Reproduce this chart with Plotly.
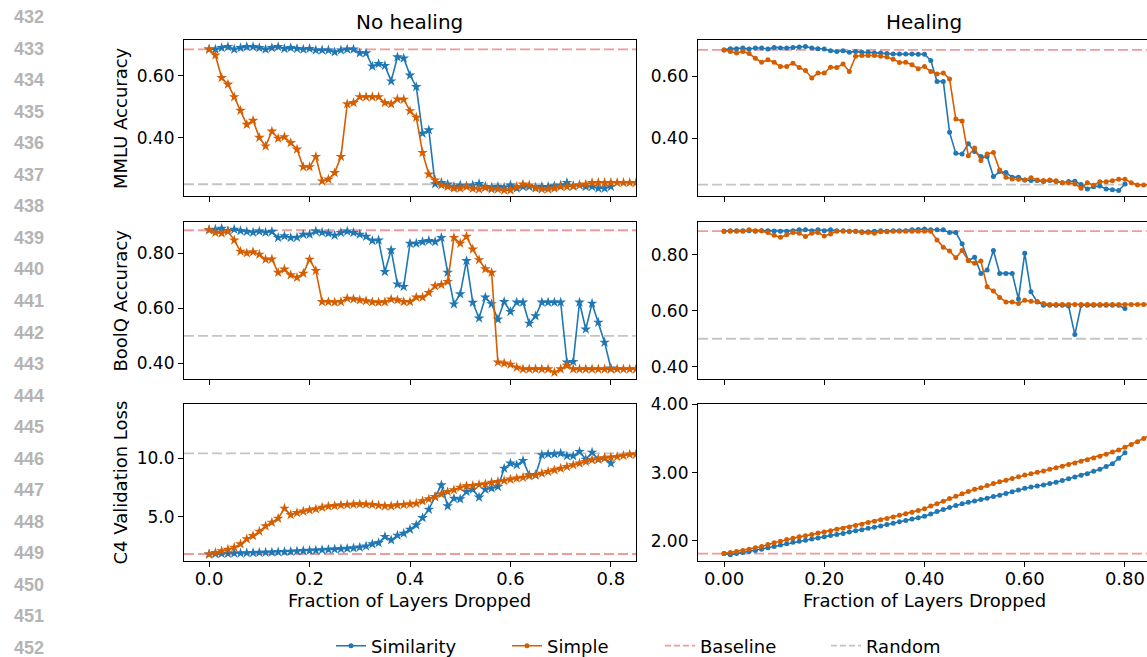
import plotly.graph_objects as go

W, H = 1147, 657
N_LAYERS = 80  # x = layers dropped / total layers

line_numbers = [str(v) for v in range(432, 453)]
col_titles = ["No healing", "Healing"]
row_titles = ["MMLU Accuracy", "BoolQ Accuracy", "C4 Validation Loss"]
x_title = "Fraction of Layers Dropped"
series_names = ["Similarity", "Simple", "Baseline", "Random"]

# ---------------- No healing ----------------
mmlu_sim_noheal = [0.686, 0.686, 0.691, 0.694, 0.686, 0.691, 0.694, 0.694, 0.691, 0.686,
                   0.691, 0.694, 0.688, 0.691, 0.688, 0.686, 0.688, 0.683, 0.683, 0.683,
                   0.677, 0.683, 0.686, 0.686, 0.674, 0.674, 0.631, 0.639, 0.633, 0.583,
                   0.661, 0.657, 0.602, 0.565, 0.414, 0.425, 0.251, 0.255, 0.250, 0.242,
                   0.247, 0.244, 0.247, 0.252, 0.242, 0.240, 0.242, 0.240, 0.247, 0.237,
                   0.242, 0.242, 0.240, 0.242, 0.242, 0.244, 0.247, 0.255, 0.244, 0.247,
                   0.242, 0.242, 0.237, 0.237, 0.242]
mmlu_simple_noheal = [0.686, 0.667, 0.594, 0.573, 0.532, 0.488, 0.443, 0.456, 0.401, 0.373,
                      0.421, 0.398, 0.403, 0.384, 0.363, 0.306, 0.306, 0.339, 0.260, 0.266,
                      0.287, 0.339, 0.509, 0.513, 0.532, 0.532, 0.532, 0.532, 0.513, 0.509,
                      0.525, 0.524, 0.487, 0.466, 0.352, 0.282, 0.263, 0.247, 0.242, 0.237,
                      0.237, 0.242, 0.236, 0.234, 0.239, 0.234, 0.234, 0.231, 0.231, 0.242,
                      0.250, 0.247, 0.237, 0.234, 0.234, 0.237, 0.242, 0.242, 0.244, 0.247,
                      0.250, 0.255, 0.255, 0.255, 0.255, 0.255, 0.255, 0.255, 0.255]
boolq_sim_noheal = [0.885, 0.887, 0.890, 0.882, 0.887, 0.882, 0.879, 0.876, 0.880, 0.876,
                    0.879, 0.857, 0.863, 0.857, 0.858, 0.869, 0.869, 0.880, 0.876, 0.873,
                    0.865, 0.875, 0.880, 0.875, 0.869, 0.861, 0.846, 0.848, 0.733, 0.812,
                    0.688, 0.679, 0.836, 0.836, 0.842, 0.846, 0.842, 0.857, 0.730, 0.615,
                    0.652, 0.773, 0.621, 0.564, 0.640, 0.616, 0.560, 0.624, 0.588, 0.622,
                    0.622, 0.545, 0.572, 0.622, 0.622, 0.622, 0.622, 0.404, 0.406, 0.622,
                    0.524, 0.618, 0.549, 0.476, 0.382]
boolq_simple_noheal = [0.885, 0.875, 0.873, 0.880, 0.848, 0.807, 0.801, 0.805, 0.796, 0.778,
                       0.779, 0.730, 0.742, 0.721, 0.712, 0.727, 0.778, 0.737, 0.624, 0.624,
                       0.622, 0.624, 0.636, 0.634, 0.630, 0.627, 0.623, 0.622, 0.623, 0.633,
                       0.630, 0.624, 0.624, 0.640, 0.640, 0.657, 0.681, 0.686, 0.697, 0.857,
                       0.836, 0.861, 0.815, 0.776, 0.743, 0.730, 0.404, 0.400, 0.396, 0.385,
                       0.379, 0.379, 0.379, 0.379, 0.379, 0.367, 0.379, 0.392, 0.379, 0.379,
                       0.379, 0.379, 0.379, 0.379, 0.379, 0.379, 0.379, 0.379, 0.379]
c4_sim_noheal = [1.80, 1.82, 1.84, 1.85, 1.87, 1.88, 1.90, 1.91, 1.93, 1.94,
                 1.96, 1.98, 2.00, 2.02, 2.05, 2.08, 2.10, 2.13, 2.16, 2.19,
                 2.22, 2.25, 2.28, 2.32, 2.38, 2.48, 2.66, 2.77, 3.29, 3.00,
                 3.40, 3.57, 3.91, 4.29, 4.91, 5.63, 6.71, 7.71, 5.91, 6.57,
                 6.51, 7.14, 7.34, 6.66, 7.34, 7.43, 7.57, 9.14, 9.57, 9.43,
                 9.80, 8.57, 8.57, 10.29, 10.37, 10.37, 10.43, 10.20, 10.20, 10.57,
                 9.91, 10.51, 9.91, 10.00, 9.57]
c4_simple_noheal = [1.80, 1.91, 2.06, 2.20, 2.37, 2.66, 3.09, 3.37, 3.74, 4.20,
                    4.51, 4.86, 5.71, 5.17, 5.34, 5.46, 5.57, 5.66, 5.80, 5.89,
                    5.94, 6.00, 6.03, 6.06, 6.09, 6.06, 6.03, 5.97, 5.91, 5.91,
                    6.00, 6.03, 6.09, 6.14, 6.34, 6.51, 6.71, 6.94, 7.14, 7.29,
                    7.51, 7.63, 7.66, 7.74, 7.80, 7.94, 8.00, 8.09, 8.20, 8.29,
                    8.37, 8.49, 8.57, 8.71, 8.86, 9.00, 9.14, 9.29, 9.43, 9.57,
                    9.71, 9.86, 9.94, 10.03, 10.09, 10.14, 10.23, 10.34, 10.34]

# ---------------- Healing ----------------
mmlu_sim_heal = [0.686, 0.690, 0.690, 0.692, 0.689, 0.692, 0.692, 0.689, 0.694, 0.692,
                 0.692, 0.694, 0.695, 0.697, 0.692, 0.690, 0.689, 0.683, 0.681, 0.683,
                 0.678, 0.681, 0.678, 0.678, 0.676, 0.676, 0.674, 0.673, 0.673, 0.673,
                 0.673, 0.672, 0.672, 0.652, 0.584, 0.584, 0.419, 0.351, 0.349, 0.382,
                 0.357, 0.341, 0.341, 0.276, 0.292, 0.289, 0.274, 0.274, 0.265, 0.263,
                 0.263, 0.260, 0.263, 0.260, 0.256, 0.260, 0.261, 0.250, 0.236, 0.243,
                 0.245, 0.236, 0.233, 0.231, 0.252]
mmlu_simple_heal = [0.686, 0.681, 0.676, 0.681, 0.674, 0.659, 0.646, 0.654, 0.646, 0.632,
                    0.632, 0.643, 0.629, 0.619, 0.595, 0.611, 0.611, 0.630, 0.629, 0.640,
                    0.616, 0.665, 0.668, 0.668, 0.668, 0.665, 0.663, 0.656, 0.645, 0.646,
                    0.638, 0.625, 0.632, 0.616, 0.608, 0.611, 0.592, 0.462, 0.456, 0.343,
                    0.368, 0.328, 0.349, 0.354, 0.297, 0.274, 0.268, 0.267, 0.265, 0.272,
                    0.265, 0.263, 0.265, 0.262, 0.256, 0.256, 0.252, 0.238, 0.256, 0.248,
                    0.259, 0.259, 0.262, 0.267, 0.267, 0.256, 0.249, 0.249, 0.249]
boolq_sim_heal = [0.885, 0.887, 0.887, 0.887, 0.887, 0.885, 0.887, 0.887, 0.886, 0.885,
                  0.885, 0.887, 0.890, 0.890, 0.887, 0.890, 0.887, 0.890, 0.887, 0.887,
                  0.885, 0.885, 0.883, 0.883, 0.885, 0.887, 0.885, 0.887, 0.887, 0.887,
                  0.890, 0.891, 0.893, 0.890, 0.890, 0.890, 0.880, 0.880, 0.840, 0.780,
                  0.792, 0.734, 0.746, 0.816, 0.734, 0.734, 0.734, 0.642, 0.806, 0.668,
                  0.632, 0.620, 0.620, 0.620, 0.620, 0.617, 0.515, 0.620, 0.620, 0.620,
                  0.620, 0.620, 0.620, 0.620, 0.608]
boolq_simple_heal = [0.885, 0.885, 0.885, 0.885, 0.890, 0.887, 0.887, 0.880, 0.871, 0.863,
                     0.872, 0.880, 0.878, 0.866, 0.878, 0.880, 0.868, 0.875, 0.885, 0.885,
                     0.885, 0.885, 0.880, 0.880, 0.878, 0.883, 0.883, 0.885, 0.885, 0.885,
                     0.885, 0.885, 0.885, 0.885, 0.854, 0.828, 0.814, 0.790, 0.816, 0.780,
                     0.770, 0.778, 0.686, 0.671, 0.648, 0.632, 0.632, 0.626, 0.638, 0.634,
                     0.633, 0.626, 0.623, 0.623, 0.623, 0.623, 0.623, 0.623, 0.623, 0.623,
                     0.623, 0.623, 0.623, 0.623, 0.623, 0.623, 0.623, 0.623, 0.623]
c4_sim_heal = [1.815, 1.800, 1.815, 1.830, 1.845, 1.860, 1.880, 1.900, 1.920, 1.940,
               1.960, 1.980, 1.995, 2.010, 2.030, 2.045, 2.060, 2.080, 2.095, 2.110,
               2.130, 2.150, 2.165, 2.185, 2.200, 2.220, 2.240, 2.260, 2.280, 2.300,
               2.320, 2.340, 2.360, 2.395, 2.430, 2.460, 2.490, 2.520, 2.545, 2.565,
               2.585, 2.605, 2.625, 2.650, 2.670, 2.695, 2.720, 2.745, 2.770, 2.790,
               2.805, 2.820, 2.840, 2.860, 2.885, 2.910, 2.935, 2.960, 2.985, 3.020,
               3.050, 3.090, 3.130, 3.210, 3.290]
c4_simple_heal = [1.815, 1.830, 1.845, 1.860, 1.880, 1.900, 1.920, 1.950, 1.975, 1.995,
                  2.020, 2.040, 2.060, 2.075, 2.095, 2.115, 2.130, 2.150, 2.170, 2.185,
                  2.205, 2.225, 2.245, 2.270, 2.290, 2.310, 2.330, 2.350, 2.375, 2.400,
                  2.420, 2.445, 2.470, 2.510, 2.545, 2.580, 2.620, 2.655, 2.690, 2.725,
                  2.755, 2.780, 2.810, 2.840, 2.865, 2.890, 2.915, 2.940, 2.965, 2.985,
                  3.005, 3.025, 3.050, 3.070, 3.095, 3.120, 3.140, 3.165, 3.190, 3.215,
                  3.240, 3.270, 3.300, 3.330, 3.370, 3.410, 3.450, 3.500, 3.550]

# reference lines: (row, col) -> value
baseline_vals = {(1, 1): 0.686, (1, 2): 0.686, (2, 1): 0.884, (2, 2): 0.885,
                 (3, 1): 1.81, (3, 2): 1.814}
random_vals = {(1, 1): 0.25, (1, 2): 0.25, (2, 1): 0.50, (2, 2): 0.50, (3, 1): 10.43}

sim_series = {(1, 1): mmlu_sim_noheal, (2, 1): boolq_sim_noheal, (3, 1): c4_sim_noheal,
              (1, 2): mmlu_sim_heal, (2, 2): boolq_sim_heal, (3, 2): c4_sim_heal}
simple_series = {(1, 1): mmlu_simple_noheal, (2, 1): boolq_simple_noheal, (3, 1): c4_simple_noheal,
                 (1, 2): mmlu_simple_heal, (2, 2): boolq_simple_heal, (3, 2): c4_simple_heal}

x_ticks = [0.0, 0.2, 0.4, 0.6, 0.8]
y_ticks = {(1, 1): [0.4, 0.6], (1, 2): [0.4, 0.6],
           (2, 1): [0.4, 0.6, 0.8], (2, 2): [0.4, 0.6, 0.8],
           (3, 1): [5.0, 10.0], (3, 2): [2.0, 3.0, 4.0]}

# ---------------- styling / layout ----------------
BLUE = "#1f77b4"
ORANGE = "#d55e00"
RED = "rgba(236,110,110,0.7)"
GREY = "#c4c4c4"
FONT = "DejaVu Sans"

col_px = {1: (184, 636), 2: (698, 1147)}
row_px = {1: (40, 196), 2: (222, 379), 3: (404, 561)}
x_ranges = {1: [-0.05, 0.85], 2: [-0.052, 0.844]}
y_ranges = {(1, 1): [0.212, 0.716], (1, 2): [0.213, 0.718],
            (2, 1): [0.343, 0.914], (2, 2): [0.356, 0.918],
            (3, 1): [1.21, 14.65], (3, 2): [1.707, 4.004]}
y_fmt = {(3, 1): ".1f"}
x_fmt = {1: ".1f", 2: ".2f"}


def xs(vals):
    return [i / N_LAYERS for i in range(len(vals))]


def k_of(r, c):
    return (r - 1) * 2 + c


fig = go.Figure()
layout = dict(width=W, height=H, autosize=False, template="none",
              margin=dict(l=0, r=0, t=0, b=0, pad=0, autoexpand=False),
              paper_bgcolor="white", plot_bgcolor="white",
              font=dict(family=FONT, color="black"))

for r in (1, 2, 3):
    for c in (1, 2):
        k = k_of(r, c)
        sfx = "" if k == 1 else str(k)
        x0, x1 = col_px[c]
        y0, y1 = row_px[r]
        layout["xaxis" + sfx] = dict(
            domain=[x0 / W, x1 / W], range=x_ranges[c], anchor="y" + sfx,
            showline=True, linecolor="black", linewidth=1.2, mirror=True,
            ticks="outside", ticklen=5, tickwidth=1.2, tickcolor="black",
            tickvals=x_ticks, tickformat=x_fmt[c], showticklabels=(r == 3),
            tickfont=dict(size=18, family=FONT), ticklabelstandoff=-4,
            showgrid=False, zeroline=False, automargin=False)
        layout["yaxis" + sfx] = dict(
            domain=[1 - y1 / H, 1 - y0 / H], range=y_ranges[(r, c)], anchor="x" + sfx,
            showline=True, linecolor="black", linewidth=1.2, mirror=(c == 1),
            ticks="outside", ticklen=5, tickwidth=1.2, tickcolor="black",
            tickvals=y_ticks[(r, c)], tickformat=y_fmt.get((r, c), ".2f"),
            tickfont=dict(size=17, family=FONT), showgrid=False, zeroline=False,
            automargin=False)

        if c == 1:
            msym, msize = "star", 8
        else:
            msym, msize = "circle", 5
        legend_here = (r == 1 and c == 2)
        fig.add_trace(go.Scatter(
            x=xs(sim_series[(r, c)]), y=sim_series[(r, c)], mode="lines+markers",
            name=series_names[0], showlegend=legend_here, legendwidth=131,
            line=dict(color=BLUE, width=1.6),
            marker=dict(symbol=msym, size=msize, color=BLUE, line=dict(width=0)),
            xaxis="x" + sfx, yaxis="y" + sfx))
        fig.add_trace(go.Scatter(
            x=xs(simple_series[(r, c)]), y=simple_series[(r, c)], mode="lines+markers",
            name=series_names[1], showlegend=legend_here, legendwidth=108,
            line=dict(color=ORANGE, width=1.6),
            marker=dict(symbol=msym, size=msize, color=ORANGE, line=dict(width=0)),
            xaxis="x" + sfx, yaxis="y" + sfx))

        xref = ("x" if k == 1 else "x" + str(k)) + " domain"
        yref = "y" + sfx
        fig.add_shape(type="line", xref=xref, yref=yref, x0=0, x1=1,
                      y0=baseline_vals[(r, c)], y1=baseline_vals[(r, c)],
                      line=dict(color=RED, width=1.8, dash="10px,4px"), layer="below")
        if (r, c) in random_vals:
            fig.add_shape(type="line", xref=xref, yref=yref, x0=0, x1=1,
                          y0=random_vals[(r, c)], y1=random_vals[(r, c)],
                          line=dict(color=GREY, width=1.8, dash="10px,4px"), layer="below")

# legend-only entries for the reference lines
fig.add_trace(go.Scatter(x=[None], y=[None], mode="lines", name=series_names[2],
                         legendwidth=121, line=dict(color=RED, width=1.8, dash="6px,3px"),
                         xaxis="x2", yaxis="y2"))
fig.add_trace(go.Scatter(x=[None], y=[None], mode="lines", name=series_names[3],
                         line=dict(color=GREY, width=1.8, dash="6px,3px"),
                         xaxis="x2", yaxis="y2"))

layout["legend"] = dict(orientation="h", x=(371 - 40) / W, xanchor="left",
                        y=1 - 646 / H, yanchor="middle", font=dict(size=18, family=FONT),
                        bgcolor="rgba(0,0,0,0)", traceorder="normal", borderwidth=0)

annotations = []
# column titles
for c, t in zip((1, 2), col_titles):
    cx = (col_px[c][0] + col_px[c][1] + (3 if c == 2 else 0)) / 2
    annotations.append(dict(text=t, x=cx / W, y=1 - 22 / H, xref="paper", yref="paper",
                            showarrow=False, font=dict(size=20, family=FONT),
                            xanchor="center", yanchor="middle"))
    annotations.append(dict(text=x_title, x=cx / W, y=1 - 600 / H, xref="paper", yref="paper",
                            showarrow=False, font=dict(size=18, family=FONT),
                            xanchor="center", yanchor="middle"))
# row titles
for r, t in zip((1, 2, 3), row_titles):
    cy = (row_px[r][0] + row_px[r][1]) / 2
    annotations.append(dict(text=t, x=120 / W, y=1 - cy / H, xref="paper", yref="paper",
                            showarrow=False, textangle=-90, font=dict(size=18, family=FONT),
                            xanchor="center", yanchor="middle"))
# manuscript line numbers
for i, t in enumerate(line_numbers):
    annotations.append(dict(text="<b>" + t + "</b>", x=29 / W, y=1 - (17 + 31.55 * i) / H,
                            xref="paper", yref="paper", showarrow=False,
                            font=dict(size=18, family="Liberation Sans", color="#b4b4b4"),
                            xanchor="center", yanchor="middle"))
layout["annotations"] = annotations

fig.update_layout(**layout)
fig.write_html("out.html")
